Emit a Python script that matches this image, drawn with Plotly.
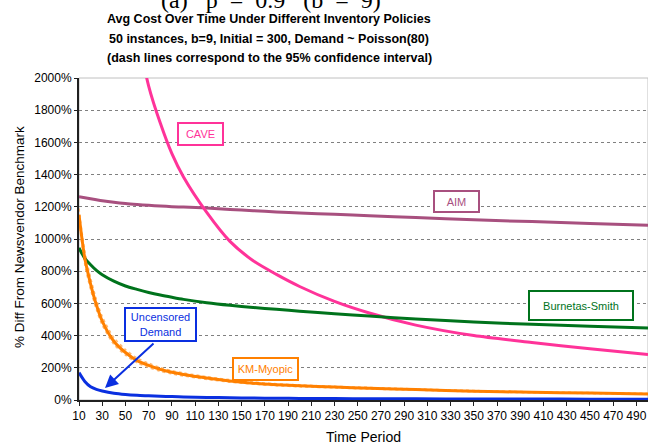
import plotly.graph_objects as go

periods = [10, 15, 20, 25, 30, 40, 50, 60, 70, 80, 90, 100, 120, 140, 160, 180, 200, 230, 260, 300, 350, 400, 450, 500]

cave = [12000, 9000, 6800, 5500, 4600, 3450, 2750, 2300, 1950, 1720, 1530, 1385, 1165, 985, 865, 780, 705, 612, 540, 465, 400, 357, 318, 282]
aim = [1262, 1256, 1250, 1244, 1238, 1228, 1220, 1214, 1209, 1205, 1201, 1198, 1192, 1184, 1176, 1168, 1161, 1153, 1145, 1133, 1119, 1108, 1097, 1086]
burnetas = [945, 880, 840, 805, 778, 738, 708, 687, 668, 652, 638, 625, 604, 588, 575, 563, 552, 536, 521, 503, 485, 470, 458, 447]
km_myopic = [1150, 880, 720, 590, 490, 365, 295, 245, 215, 190, 172, 158, 136, 118, 104, 95, 88, 80, 73, 65, 55, 48, 43, 38]
km_upper = [1190, 925, 760, 625, 520, 388, 314, 261, 229, 202, 183, 168, 145, 126, 111, 101, 94, 85, 78, 69, 59, 51, 46, 41]
km_lower = [1110, 840, 685, 560, 465, 345, 279, 231, 202, 179, 162, 149, 128, 111, 98, 89, 82, 75, 68, 61, 51, 45, 40, 35]
uncensored = [170, 115, 82, 66, 56, 42, 34, 29, 26, 23, 21, 19, 16, 14, 12, 11, 10, 9, 8, 7, 6, 6, 5, 5]

x_ticks = list(range(10, 500, 20))
y_ticks = list(range(0, 2001, 200))
y_tick_labels = ["%d%%" % v for v in y_ticks]

title_lines = [
    "Avg Cost Over Time Under Different Inventory Policies",
    "50 instances, b=9, Initial = 300, Demand ~ Poisson(80)",
    "(dash lines correspond to the 95% confidence interval)",
]
caption = "(a)&nbsp;&nbsp;&nbsp;p&nbsp;&nbsp;=&nbsp;&nbsp;0.9&nbsp;&nbsp;&nbsp;(b&nbsp;&nbsp;=&nbsp;&nbsp;9)"

C_CAVE = "#FF3399"
C_AIM = "#A8507F"
C_BS = "#00731C"
C_KM = "#FF8000"
C_KM_CI = "#FFB870"
C_UN = "#0A2FE0"

FONT = "Liberation Sans, Arial, sans-serif"

L, R, T, B = 79, 0, 78, 46
W, H = 648, 446
PW, PH = W - L - R, H - T - B

def px(xp):
    return (xp - L) / PW

def py(yp):
    return (H - B - yp) / PH

fig = go.Figure()

def add_line(y, color, width=3, dash="solid"):
    fig.add_trace(go.Scatter(
        x=periods, y=y, mode="lines",
        line=dict(color=color, width=width, dash=dash, shape="spline", smoothing=0.8),
        showlegend=False, hoverinfo="skip",
    ))

add_line(km_upper, C_KM_CI, 1.5, "dot")
add_line(km_lower, C_KM_CI, 1.5, "dot")
add_line(aim, C_AIM)
add_line(cave, C_CAVE)
add_line(burnetas, C_BS)
add_line(km_myopic, C_KM)
add_line(uncensored, C_UN)

fig.update_layout(
    width=W, height=H,
    margin=dict(l=L, r=R, t=T, b=B, autoexpand=False),
    paper_bgcolor="white", plot_bgcolor="white",
    font=dict(family=FONT, size=12, color="black"),
    xaxis=dict(
        range=[10, 500], tickvals=x_ticks, ticktext=[str(v) for v in x_ticks],
        showgrid=False, zeroline=False, automargin=False,
        showline=True, linecolor="#202020", linewidth=2,
        ticks="outside", ticklen=4, tickcolor="#202020", tickwidth=1,
        tickfont=dict(size=12),
    ),
    yaxis=dict(
        range=[0, 2000], tickvals=y_ticks, ticktext=y_tick_labels,
        showgrid=True, gridcolor="#808080", griddash="dot", gridwidth=1,
        zeroline=False, automargin=False,
        showline=True, linecolor="#202020", linewidth=2,
        ticks="outside", ticklen=3, tickcolor="#202020", tickwidth=1,
        tickfont=dict(size=12),
    ),
)

# plot area border
fig.add_shape(type="rect", xref="paper", yref="paper", x0=0, x1=1, y0=0, y1=1,
              line=dict(color="#C0C0C0", width=1), layer="below")

# axis titles
fig.add_annotation(text="Time Period", xref="paper", yref="paper", x=px(363), y=py(437),
                   showarrow=False, font=dict(size=14), xanchor="center", yanchor="middle")
fig.add_annotation(text="% Diff From Newsvendor Benchmark", xref="paper", yref="paper",
                   x=px(19), y=py(237), textangle=-90,
                   showarrow=False, font=dict(size=13.5), xanchor="center", yanchor="middle")

# title lines
for txt, yc in zip(title_lines, [19, 39.3, 58.3]):
    fig.add_annotation(
        text="<b>%s</b>" % txt, xref="paper", yref="paper",
        x=px(269), y=py(yc),
        showarrow=False, font=dict(size=12.5, family=FONT), xanchor="center", yanchor="middle",
    )

# partially visible caption at the top (cut off by the image edge, as in the reference)
fig.add_annotation(
    text=caption, xref="paper", yref="paper",
    x=px(271), y=py(15), yanchor="bottom", xanchor="center",
    showarrow=False, font=dict(size=24, family="Liberation Serif, serif"),
)

def box(text, x, y, color, w, h):
    fig.add_annotation(
        text=text, x=x, y=y, xref="x", yref="y", showarrow=False,
        font=dict(size=11, color=color, family=FONT),
        bgcolor="white", bordercolor=color, borderwidth=2, borderpad=0,
        width=w, height=h, align="center",
    )

box("CAVE", 114.5, 1653, C_CAVE, 43, 20)
box("AIM", 335, 1234, C_AIM, 43, 19)
box("Burnetas-Smith", 442.4, 590, C_BS, 102, 27)
box("KM-Myopic", 170.2, 194, C_KM, 63, 20)
box("Uncensored<br>Demand", 79.8, 466, C_UN, 69, 31)

fig.add_annotation(
    text="", x=32.4, y=74, xref="x", yref="y", ax=50, ay=-46,
    showarrow=True, arrowhead=2, arrowsize=1.3, arrowwidth=2, arrowcolor=C_UN,
)

fig.write_html(
    "out.html",
    config={"displayModeBar": False},
    post_script="document.body.style.margin='0';document.body.style.overflow='hidden';",
)
